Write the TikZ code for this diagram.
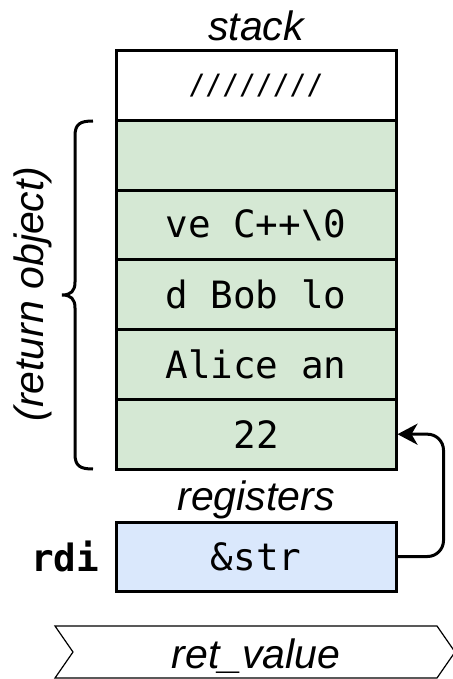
\documentclass[tikz,border=0pt]{standalone}
\usepackage{fontspec}
\setmainfont{Liberation Sans}
\setmonofont{DejaVu Sans Mono}
\usetikzlibrary{arrows.meta}
\definecolor{cellgreen}{HTML}{D5E8D4}
\definecolor{regblue}{HTML}{DAE8FC}
\tikzset{
  cell/.style={draw, line width=1.5pt, minimum width=140pt, minimum height=34.83pt,
    inner sep=0pt, font=\fontsize{18.8}{22}\selectfont\ttfamily},
  title/.style={font=\fontsize{20.5}{24}\selectfont\itshape, inner sep=0pt},
}

\begin{document}
\begin{tikzpicture}[x=0.5pt,y=-0.5pt]
\useasboundingbox (0,0) rectangle (453,679);

\node[title] (stacktitle) at (256,26) {stack};

\node[cell] (c0) at (256,85.8) {\fontsize{14}{16}\selectfont ////////};
\node[cell,fill=cellgreen] (c1) at (256,155.5) {};
\node[cell,fill=cellgreen] (c2) at (256,225.2) {ve C++\textbackslash 0};
\node[cell,fill=cellgreen] (c3) at (256,294.8) {d Bob lo};
\node[cell,fill=cellgreen] (c4) at (256,364.5) {Alice an};
\node[cell,fill=cellgreen] (c5) at (256,434.2) {22};

% brace round the return object
\draw[line width=1.5pt] (93,121) .. controls (80,121) and (75,124) .. (75,136)
  -- (75,282) .. controls (75,291) and (71,295) .. (62,295)
  .. controls (71,295) and (75,299) .. (75,308)
  -- (75,454) .. controls (75,466) and (80,469) .. (93,469);
\node[title, rotate=90] (retobj) at (33,294) {(return object)};

\node[title] (regtitle) at (256,500) {registers};
\node[cell,fill=regblue,minimum height=34.5pt] (rdibox) at (256,556.5) {\&str};
\node[font=\fontsize{18.8}{22}\selectfont\ttfamily\bfseries, inner sep=0pt] (rdilabel) at (65,556) {rdi};

\draw[line width=1.5pt, rounded corners=8pt, -{Stealth[length=10pt,width=10.5pt,inset=3pt]}]
  (rdibox.east) -- ++(46,0) |- (c5.east);

% return value chevron
\draw[line width=0.6pt] (55,626) -- (437,626) -- (455,652) -- (437,678) -- (55,678) -- (73,652) -- cycle;
\node[title] (retval) at (256,656) {ret\_value};
\end{tikzpicture}
\end{document}
